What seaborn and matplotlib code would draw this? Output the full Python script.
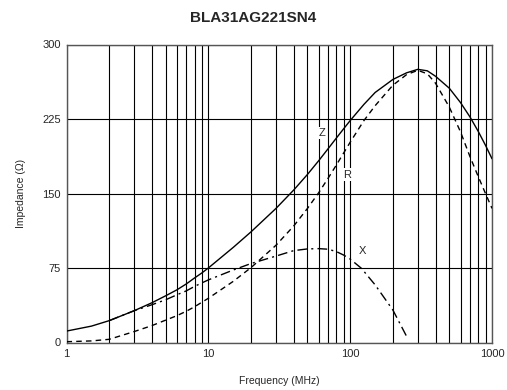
import numpy as np
import pandas as pd
import matplotlib
matplotlib.use("Agg")
import matplotlib.pyplot as plt
from matplotlib.ticker import FixedLocator, NullFormatter
import seaborn as sns

# values
freq_zr = [1, 1.5, 2, 3, 4, 5, 6, 7, 8, 9, 10, 15, 20, 30, 40, 50, 60, 70, 80, 90, 100,
           125, 150, 200, 250, 300, 350, 400, 500, 600, 700, 800, 900, 1000]
z_vals = [11.5, 16.5, 22, 32, 40, 47, 53, 59, 65, 70, 75, 95.8, 111.4, 135, 153.5, 169.2,
          183, 195.2, 205.9, 215.2, 223.4, 239.7, 251.7, 264.8, 271.5, 275, 273.5, 268,
          256, 241.5, 227, 212.5, 198.5, 185]
r_vals = [0.8, 1.6, 3.2, 11, 17, 22.5, 27, 31.5, 36, 40.5, 44.5, 61.6, 75.4, 97.9, 117.3,
          135, 150.8, 165.5, 178.8, 190.8, 201.6, 223.4, 238.4, 259, 269.7, 274, 270.5,
          261, 237, 212, 187, 167, 150, 135]
freq_x = [2, 3, 4, 5, 6, 7, 8, 9, 10, 15, 20, 30, 40, 50, 60, 70, 80, 90, 100,
          120, 150, 200, 252]
x_vals = [22, 32, 38, 43, 48, 52, 56.5, 60, 63, 73, 79.5, 87, 92.5, 94.2, 94.5,
          93.9, 91.5, 88, 84, 74.7, 58, 32.7, 5.2]

sns.set_style("white")
plt.rcParams["font.family"] = ["Liberation Sans", "DejaVu Sans"]

fig = plt.figure(figsize=(5.07, 3.9), dpi=100)
ax = fig.add_axes([66.5 / 507, 1 - 342.5 / 390, 425.5 / 507, 298 / 390])

df_z = pd.DataFrame({"f": freq_zr, "v": z_vals})
df_r = pd.DataFrame({"f": freq_zr, "v": r_vals})
df_x = pd.DataFrame({"f": freq_x, "v": x_vals})

sns.lineplot(data=df_z, x="f", y="v", ax=ax, color="black", lw=1.0, zorder=3)
sns.lineplot(data=df_r, x="f", y="v", ax=ax, color="black", lw=1.0,
             linestyle=(0, (4, 3)), zorder=3)
sns.lineplot(data=df_x, x="f", y="v", ax=ax, color="black", lw=1.0,
             linestyle=(0, (7, 3, 1.5, 3)), zorder=3)

ax.set_xscale("log")
ax.set_xlim(1, 1000)
ax.set_ylim(0, 300)

# grid on every log step
minor = [m * d for d in (1, 10, 100) for m in range(2, 10)]
ax.xaxis.set_major_locator(FixedLocator([1, 10, 100, 1000]))
ax.xaxis.set_minor_locator(FixedLocator(minor))
ax.xaxis.set_minor_formatter(NullFormatter())
ax.set_xticklabels(["1", "10", "100", "1000"])
ax.set_yticks([0, 75, 150, 225, 300])
ax.grid(True, which="both", axis="x", color="black", lw=0.8)
ax.grid(True, which="major", axis="y", color="black", lw=0.8)
ax.tick_params(axis="both", which="both", length=0, labelsize=8)
ax.tick_params(axis="x", pad=5)
ax.tick_params(axis="y", pad=4)

for s in ax.spines.values():
    s.set_color("#555555")
    s.set_linewidth(1.0)

box = dict(facecolor="white", edgecolor="none", pad=1)
ax.text(63, 211, "Z", fontsize=8, ha="center", va="center", bbox=box, zorder=4)
ax.text(95, 169, "R", fontsize=8, ha="center", va="center", bbox=box, zorder=4)
ax.text(123, 92, "X", fontsize=8, ha="center", va="center", zorder=4)

ax.set_xlabel("Frequency (MHz)", fontsize=7.5, labelpad=12)
ax.set_ylabel("Impedance (Ω)", fontsize=7.5, labelpad=12)
fig.text(0.5, 1 - 18 / 390, "BLA31AG221SN4", fontsize=11, fontweight="bold",
         ha="center", va="center")

fig.savefig("out.png", dpi=100)
